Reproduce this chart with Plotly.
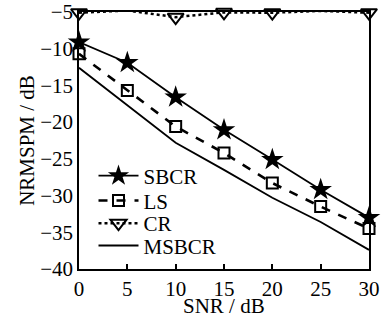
import plotly.graph_objects as go

snr = [0, 5, 10, 15, 20, 25, 30]
sbcr = [-9.1, -11.9, -16.6, -21.05, -25.1, -29.2, -33.0]
ls = [-10.7, -15.7, -20.6, -24.2, -28.3, -31.5, -34.5]
cr = [-5.1, -4.8, -5.7, -5.05, -5.1, -4.85, -5.1]
msbcr = [-12.6, -17.7, -22.8, -26.5, -30.3, -33.6, -37.4]

x_ticks = [0, 5, 10, 15, 20, 25, 30]
y_ticks = [-5, -10, -15, -20, -25, -30, -35, -40]

FONT = "Liberation Serif"
FS = 21

fig = go.Figure()
fig.add_trace(go.Scatter(x=snr, y=sbcr, name="SBCR", mode="lines+markers",
                         line=dict(color="black", width=1.8),
                         marker=dict(symbol="star", size=17, color="black"),
                         cliponaxis=False, legend="legend"))
fig.add_trace(go.Scatter(x=snr, y=ls, name="LS", mode="lines+markers",
                         line=dict(color="black", width=2.6, dash="dash"),
                         marker=dict(symbol="square-open", size=11, color="black",
                                     line=dict(width=2)),
                         cliponaxis=False, legend="legend2"))
fig.add_trace(go.Scatter(x=snr, y=cr, name="CR", mode="lines+markers",
                         line=dict(color="black", width=2.5, dash="dot"),
                         marker=dict(symbol="triangle-down-open", size=14, color="black",
                                     line=dict(width=2)),
                         cliponaxis=False, legend="legend3"))
fig.add_trace(go.Scatter(x=snr, y=msbcr, name="MSBCR", mode="lines",
                         line=dict(color="black", width=1.8),
                         cliponaxis=False, legend="legend4"))

def leg(y):
    return dict(x=0.05, y=y, xanchor="left", yanchor="middle",
                bgcolor="rgba(0,0,0,0)", font=dict(size=FS, family=FONT),
                borderwidth=0, itemwidth=40)

fig.update_layout(
    width=383, height=324,
    margin=dict(l=79, r=14, t=12, b=55),
    paper_bgcolor="white", plot_bgcolor="white",
    font=dict(family=FONT, size=FS, color="black"),
    showlegend=True,
    legend=leg(0.362), legend2=leg(0.265), legend3=leg(0.177), legend4=leg(0.09),
    annotations=[dict(text="SNR / dB", xref="paper", yref="paper", x=0.5, y=-0.145,
                      xanchor="center", yanchor="middle", showarrow=False,
                      font=dict(size=FS, family=FONT, color="black"))],
)
fig.update_xaxes(range=[0, 30], tickvals=x_ticks, ticks="inside", ticklen=5,
                 tickcolor="black", tickwidth=1.5, automargin=False,
                 showline=True, linecolor="black", linewidth=1.5, mirror=True,
                 showgrid=False, zeroline=False,
                 tickfont=dict(family=FONT, size=FS))
fig.update_yaxes(range=[-40, -5], tickvals=y_ticks, ticks="", automargin=False,
                 showline=True, linecolor="black", linewidth=1.5, mirror=True,
                 showgrid=False, zeroline=False,
                 tickfont=dict(family=FONT, size=FS),
                 title=dict(text="NRMSPM / dB", standoff=0, font=dict(size=FS, family=FONT)))

fig.write_html("out.html", config={"displayModeBar": False},
               post_script="document.body.style.margin='0';document.body.style.padding='0';")
